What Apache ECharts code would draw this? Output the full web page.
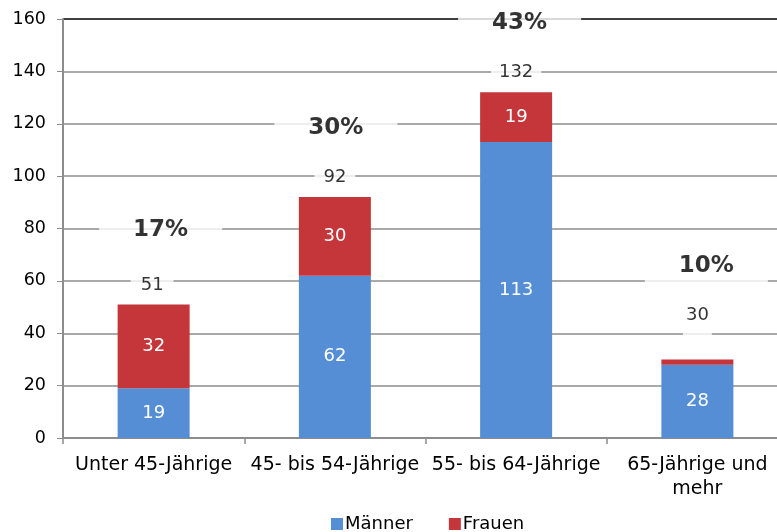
<!DOCTYPE html>
<html><head><meta charset="utf-8">
<script src="https://cdn.jsdelivr.net/npm/echarts@6/dist/echarts.min.js"></script>
<style>html,body{margin:0;padding:0;background:#fff}#c{width:777px;height:532px}</style>
</head><body><div id="c"></div>
<script>
var categories = ['Unter 45-Jährige', '45- bis 54-Jährige', '55- bis 64-Jährige', '65-Jährige und\nmehr'];
var maenner = [19, 62, 113, 28];
var frauen = [32, 30, 19, 2];
var totals = [51, 92, 132, 30];
var shares = ['17%', '30%', '43%', '10%'];
var yTicks = [0, 20, 40, 60, 80, 100, 120, 140, 160];

// label placement (style only)
var totalOffsets = [[-1.5, -19.5], [0, -19.6], [0, -20.3], [0, -44.4]];
var totalPads = [[3, 10], [3, 9], [3, 8], [2, 3, 24, 3]];
var shareOffsets = [[7, -74.4], [1, -68.6], [3.5, -68.8], [9, -93.9]];

var FONT = 'DejaVu Sans';
var chart = echarts.init(document.getElementById('c'));
var gridColors = yTicks.map(function (v, i) { return i === yTicks.length - 1 ? '#000' : '#8c8c8c'; });

chart.setOption({
  animation: false,
  textStyle: { fontFamily: FONT, color: '#000' },
  grid: { left: 63, width: 725, top: 19, bottom: 94, outerBoundsMode: 'none', containLabel: false },
  legend: {
    data: ['Männer', 'Frauen'], top: 510, left: 326,
    icon: 'rect', itemWidth: 12, itemHeight: 12, itemGap: 36,
    textStyle: { fontFamily: FONT, fontSize: 18, color: '#000', padding: [0, 0, 0, -3] }
  },
  xAxis: {
    type: 'category', data: categories,
    axisLine: { lineStyle: { color: '#8c8c8c', width: 2 } },
    axisTick: { show: true, length: 6, lineStyle: { color: '#8c8c8c', width: 1.5 } },
    axisLabel: { fontFamily: FONT, fontSize: 19, color: '#000', margin: 15, lineHeight: 24, interval: 0 }
  },
  yAxis: {
    type: 'value', min: 0, max: 160, interval: 20,
    axisLine: { show: true, lineStyle: { color: '#8c8c8c', width: 2 } },
    axisTick: { show: true, length: 6, lineStyle: { color: '#8c8c8c' } },
    axisLabel: { fontFamily: FONT, fontSize: 17.5, color: '#000', margin: 17 },
    splitLine: { show: true, lineStyle: { color: gridColors, width: 1.5 } }
  },
  series: [
    {
      name: 'Männer', type: 'bar', stack: 's', data: maenner, barWidth: 72,
      itemStyle: { color: '#558ED5' },
      label: { show: true, position: 'inside', color: '#fff', fontFamily: FONT, fontSize: 18 }
    },
    {
      name: 'Frauen', type: 'bar', stack: 's', data: frauen, barWidth: 72,
      itemStyle: { color: '#C4363A' },
      label: { show: true, position: 'inside', color: '#fff', fontFamily: FONT, fontSize: 18,
        formatter: function (p) { return p.value >= 5 ? p.value : ''; } }
    },
    {
      name: 'Summe', type: 'scatter', symbolSize: 0, silent: true, z: 5,
      data: totals.map(function (v, i) {
        return { value: v, label: { offset: totalOffsets[i], padding: totalPads[i] } };
      }),
      label: { show: true, position: 'inside', color: '#000', fontFamily: FONT, fontSize: 18,
        backgroundColor: '#fff', formatter: function (p) { return totals[p.dataIndex]; } }
    },
    {
      name: 'Anteil', type: 'scatter', symbolSize: 0, silent: true, z: 6,
      data: totals.map(function (v, i) {
        return { value: v, label: { offset: shareOffsets[i] } };
      }),
      label: { show: true, position: 'inside', color: '#000', fontFamily: FONT, fontSize: 23, fontWeight: 'bold',
        backgroundColor: '#fff', padding: [6, 34],
        formatter: function (p) { return shares[p.dataIndex]; } }
    }
  ]
});
</script></body></html>
